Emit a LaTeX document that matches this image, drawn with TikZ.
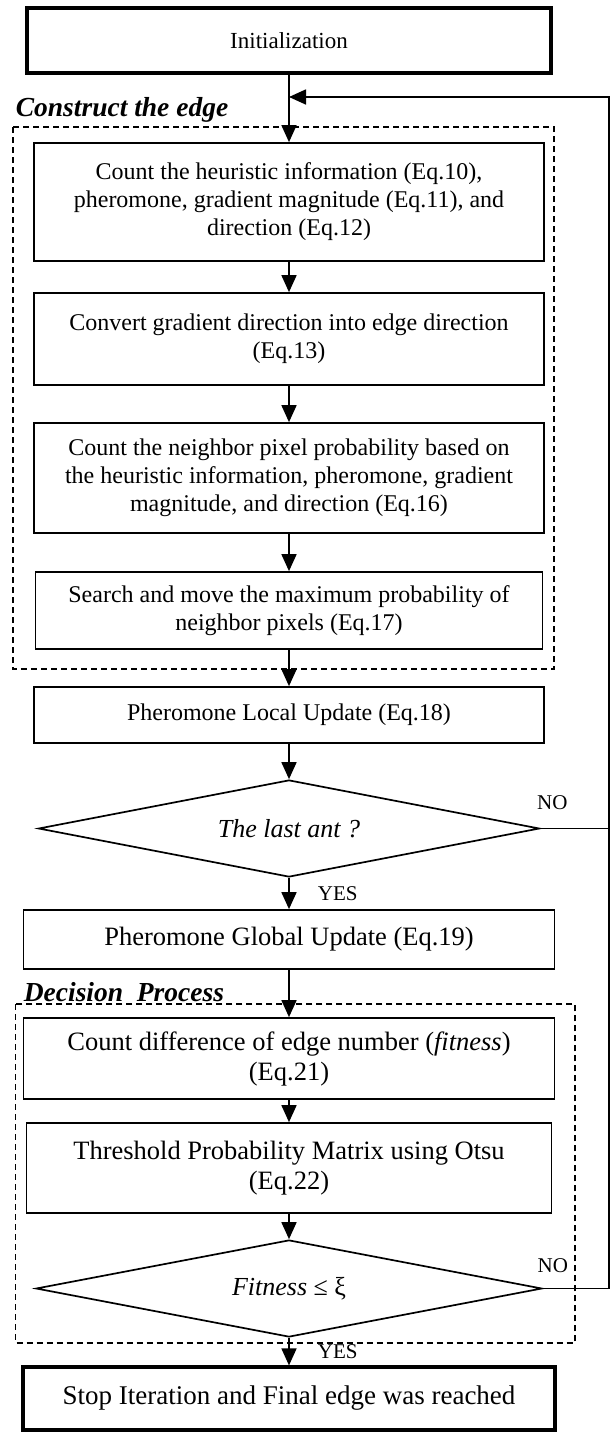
\documentclass[tikz,border=0pt]{standalone}
\usepackage{fontspec}
\setmainfont{Liberation Serif}
\usetikzlibrary{positioning,arrows.meta,shapes.geometric}

\begin{document}
\begin{tikzpicture}[x=1pt,y=-1pt,line width=1.7pt,->,>={Triangle[length=17pt,width=15pt]},on grid,auto,
  proc/.style={draw,rectangle,align=center,inner sep=0pt,minimum width=510pt,font=\fontsize{24}{28}\selectfont},
  bigproc/.style={proc,minimum width=531pt,font=\fontsize{26.5}{30}\selectfont},
  endproc/.style={proc,line width=3.2pt},
  test/.style={draw,diamond,aspect=5.2,inner sep=0pt,minimum height=97pt,font=\fontsize{26}{30}\selectfont\itshape},
  groupbox/.style={draw,-,dash pattern=on 6pt off 4pt},
  grouplabel/.style={anchor=west,inner sep=0pt,font=\fontsize{27.5}{30}\selectfont\bfseries\itshape},
  answer/.style={inner sep=0pt,font=\fontsize{21}{24}\selectfont}]
\useasboundingbox (0,0) rectangle (613,1437);

\node[endproc,minimum width=524pt,minimum height=65pt,font=\fontsize{23}{28}\selectfont] (init) at (289,40.5) {Initialization};
\node[proc,minimum height=118pt] (heur) [below=161.5pt of init] {Count the heuristic information (Eq.10),\\ pheromone, gradient magnitude (Eq.11), and\\ direction (Eq.12)};
\node[proc,minimum height=92pt] (conv) [below=137pt of heur] {Convert gradient direction into edge direction\\ (Eq.13)};
\node[proc,minimum height=110pt] (neigh) [below=139pt of conv] {Count the neighbor pixel probability based on\\ the heuristic information, pheromone, gradient\\ magnitude, and direction (Eq.16)};
\node[proc,minimum width=507pt,minimum height=77pt] (search) [below=132.5pt of neigh] {Search and move the maximum probability of\\ neighbor pixels (Eq.17)};
\node[proc,minimum height=56pt] (local) [below=104.5pt of search] {Pheromone Local Update (Eq.18)};
\node[test,minimum width=501pt] (ant) [below=113.5pt of local] {The last ant ?};
\node[bigproc,minimum height=59pt] (global) [below=111pt of ant] {Pheromone Global Update (Eq.19)};
\node[bigproc,minimum height=81pt] (diff) [below=119pt of global] {Count difference of edge number (\textit{fitness})\\ (Eq.21)};
\node[bigproc,minimum width=525pt,minimum height=90pt] (thresh) [below=109.5pt of diff] {Threshold Probability Matrix using Otsu\\ (Eq.22)};
\node[test,minimum width=506pt] (fit) [below=120.5pt of thresh] {Fitness {\upshape ≤ ξ}};
\node[endproc,minimum width=532pt,minimum height=63pt,font=\fontsize{27}{30}\selectfont] (stop) [below=110pt of fit] {Stop Iteration and Final edge was reached};

% dashed groups
\draw[groupbox] (13,127) rectangle (554,669);
\node[grouplabel] (lblA) at (15,110) {Construct the edge};
\draw[groupbox] (15.6,1004) rectangle (575,1343);
\node[grouplabel] (lblB) at (23,992) {Decision\ \ Process};

% loop back
\coordinate (loopR) at (609,97);
\coordinate (loopIn) at (289,97);

\path
(init) edge (heur)
(heur) edge (conv)
(conv) edge (neigh)
(neigh) edge (search)
(search) edge (local)
(local) edge (ant)
(ant) edge node[answer,xshift=28pt] {YES} (global)
(global) edge (diff)
(diff) edge (thresh)
(thresh) edge (fit)
(fit) edge node[answer,xshift=28pt] {YES} (stop);

\draw[-] (ant.east) -- (ant.east -| loopR);
\draw (fit.east) -- (fit.east -| loopR) -- (loopR) -- (loopIn);
\node[answer,anchor=south west] (noA) at ([xshift=-4pt,yshift=18pt]ant.east) {NO};
\node[answer,anchor=south west] (noB) at ([xshift=-6pt,yshift=15pt]fit.east) {NO};
\end{tikzpicture}
\end{document}
